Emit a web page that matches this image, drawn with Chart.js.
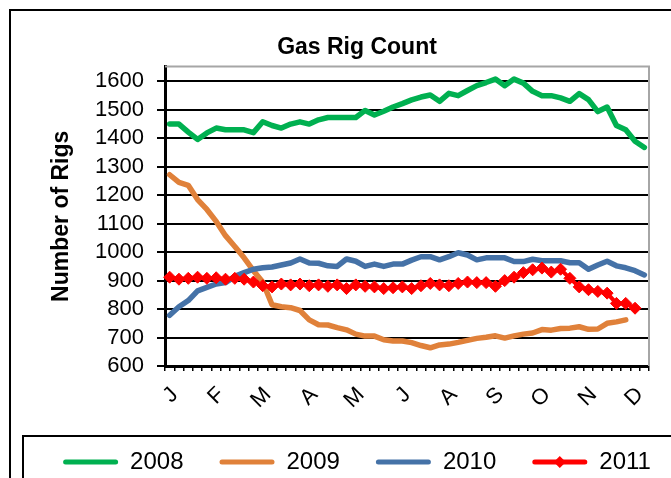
<!DOCTYPE html>
<html>
<head>
<meta charset="utf-8">
<title>Gas Rig Count</title>
<script src="https://cdn.jsdelivr.net/npm/chart.js@4.4.0/dist/chart.umd.min.js"></script>
<style>
    html, body { margin: 0; padding: 0; background: #fff; overflow: hidden; }
    #wrap { width: 705px; height: 500px; }
</style>
</head>
<body>
<div id="wrap"><canvas id="gasRigChart" width="705" height="500"></canvas></div>
<script>
// Semaines (52) et initiales des mois affichées toutes les 5 semaines
const weeks = Array.from({ length: 52 }, (_, i) => 'S' + (i + 1));
const monthLabels = ['J', 'F', 'M', 'A', 'M', 'J', 'A', 'S', 'O', 'N', 'D'];
const yTicks = [600, 700, 800, 900, 1000, 1100, 1200, 1300, 1400, 1500, 1600];

// Nombre de puits gaziers par semaine
const rigs2008 = [1450, 1450, 1422, 1396, 1419, 1436, 1430, 1430, 1430, 1420, 1458, 1445, 1436, 1450, 1458, 1450,
    1465, 1473, 1473, 1473, 1473, 1498, 1482, 1495, 1510, 1522, 1535, 1545, 1552, 1530, 1558, 1550,
    1568, 1585, 1596, 1608, 1585, 1608, 1594, 1565, 1550, 1550, 1542, 1530, 1557, 1536, 1494, 1510,
    1445, 1430, 1390, 1368];
const rigs2009 = [1272, 1245, 1235, 1185, 1150, 1108, 1058, 1020, 980, 935, 895, 815, 808, 805, 795, 762,
    745, 744, 735, 727, 712, 705, 705, 692, 688, 688, 682, 672, 664, 674, 677, 683,
    690, 697, 701, 706, 698, 706, 712, 716, 728, 726, 732, 733, 738, 729, 730, 750,
    755, 762];
const rigs2010 = [778, 808, 830, 864, 876, 888, 893, 915, 928, 940, 945, 948, 955, 962, 976, 962,
    961, 952, 950, 976, 968, 950, 958, 950, 958, 958, 972, 984, 984, 973, 984, 998,
    990, 973, 980, 980, 980, 967, 967, 975, 970, 970, 970, 963, 963, 940, 955, 968,
    952, 945, 935, 920];
const rigs2011 = [912, 905, 908, 912, 908, 910, 905, 908, 905, 895, 882, 878, 888, 885, 888, 882,
    885, 880, 885, 872, 885, 880, 878, 872, 875, 878, 872, 882, 890, 885, 882, 890,
    895, 893, 893, 880, 900, 912, 928, 938, 944, 930, 940, 908, 878, 868, 862, 856,
    820, 820, 803];

const FONT = "'Liberation Sans', Arial, sans-serif";

// Cadres : fond blanc, bord gris du tracé, bordure extérieure et boîte de légende
const cadres = {
    id: 'cadres',
    beforeDraw(chart) {
        const ctx = chart.ctx;
        ctx.save();
        ctx.fillStyle = '#fff';
        ctx.fillRect(0, 0, chart.width, chart.height);
        ctx.restore();
    },
    beforeDatasetsDraw(chart) {
        const ctx = chart.ctx;
        const a = chart.chartArea;
        ctx.save();
        ctx.strokeStyle = '#a6a6a6';
        ctx.lineWidth = 2;
        ctx.beginPath();
        ctx.moveTo(a.left, a.top);
        ctx.lineTo(a.right, a.top);
        ctx.lineTo(a.right, a.bottom);
        ctx.stroke();
        ctx.restore();
    },
    afterDraw(chart) {
        const ctx = chart.ctx;
        const lg = chart.legend;
        ctx.save();
        ctx.strokeStyle = '#000';
        ctx.lineWidth = 2;
        ctx.strokeRect(10, 10, chart.width - 20, chart.height);
        ctx.strokeRect(23, lg.top + 22, chart.width - 46, chart.height);
        // losange sur l'échantillon 2011
        const hb = lg.legendHitBoxes[3];
        if (hb) {
            const cx = hb.left + 55 / 2;
            const cy = hb.top + hb.height / 2;
            ctx.fillStyle = '#ff0000';
            ctx.beginPath();
            ctx.moveTo(cx, cy - 6);
            ctx.lineTo(cx + 6, cy);
            ctx.lineTo(cx, cy + 6);
            ctx.lineTo(cx - 6, cy);
            ctx.closePath();
            ctx.fill();
        }
        ctx.restore();
    }
};

document.addEventListener('DOMContentLoaded', function () {
    if (typeof Chart === 'undefined') {
        console.error('Chart.js n\'est pas chargé !');
        return;
    }

    const ctx = document.getElementById('gasRigChart').getContext('2d');
    new Chart(ctx, {
        type: 'line',
        data: {
            labels: weeks,
            datasets: [
                { label: '2008', data: rigs2008, borderColor: '#00b050', backgroundColor: '#00b050', borderWidth: 5.5, pointRadius: 0, order: 4 },
                { label: '2009', data: rigs2009, borderColor: '#e0813a', backgroundColor: '#e0813a', borderWidth: 5.5, pointRadius: 0, order: 3 },
                { label: '2010', data: rigs2010, borderColor: '#4572a7', backgroundColor: '#4572a7', borderWidth: 5.5, pointRadius: 0, order: 2 },
                {
                    label: '2011', data: rigs2011, borderColor: '#ff0000', backgroundColor: '#ff0000', borderWidth: 4,
                    pointStyle: 'rectRot', pointRadius: 6, pointBackgroundColor: '#ff0000', pointBorderColor: '#ff0000',
                    pointBorderWidth: 1, order: 1
                }
            ]
        },
        options: {
            responsive: false,
            animation: false,
            layout: { padding: { left: 9, right: 0, top: 9, bottom: 16 } },
            elements: { line: { tension: 0, borderCapStyle: 'round', borderJoinStyle: 'round' } },
            plugins: {
                title: {
                    display: true,
                    text: 'Gas Rig Count',
                    color: '#000',
                    font: { family: FONT, size: 23, weight: 'bold' },
                    padding: { top: 25, bottom: 5 }
                },
                legend: {
                    position: 'bottom',
                    labels: {
                        color: '#000',
                        font: { family: FONT, size: 24 },
                        boxWidth: 55,
                        boxHeight: 5,
                        padding: 36,
                        useBorderRadius: true,
                        borderRadius: 2.5,
                        sort: (a, b) => a.datasetIndex - b.datasetIndex,
                        generateLabels: function (chart) {
                            const items = Chart.defaults.plugins.legend.labels.generateLabels(chart);
                            return items.map(it => Object.assign(it, { lineWidth: 0 }));
                        }
                    }
                },
                tooltip: { enabled: false }
            },
            scales: {
                x: {
                    offset: true,
                    afterFit: function (scale) { scale.height = 48; },
                    grid: { display: true, drawOnChartArea: false, drawTicks: true, tickLength: 5, color: '#000', lineWidth: 1.5, offset: true },
                    border: { color: '#000', width: 3 },
                    ticks: {
                        autoSkip: false,
                        minRotation: 45,
                        maxRotation: 45,
                        labelOffset: 5,
                        padding: 11,
                        color: '#000',
                        font: { family: FONT, size: 22 },
                        callback: function (value, index) {
                            return index % 5 === 0 ? monthLabels[index / 5] : '';
                        }
                    }
                },
                y: {
                    min: 600,
                    max: 1652,
                    afterBuildTicks: function (scale) {
                        scale.ticks = yTicks.map(v => ({ value: v }));
                    },
                    afterFit: function (scale) { scale.width = 156; },
                    grid: { color: '#000', lineWidth: 2, tickLength: 8 },
                    border: { color: '#000', width: 3 },
                    ticks: {
                        color: '#000',
                        padding: 13,
                        font: { family: FONT, size: 22 },
                        callback: value => String(value)
                    },
                    title: {
                        display: true,
                        text: 'Number of Rigs',
                        color: '#000',
                        font: { family: FONT, size: 23, weight: 'bold' },
                        padding: { top: 39, bottom: 0 }
                    }
                },
                yDroite: {
                    position: 'right',
                    display: true,
                    afterFit: function (scale) { scale.width = 56; },
                    grid: { display: false },
                    border: { display: false },
                    ticks: { display: false }
                }
            }
        },
        plugins: [cadres]
    });
});
</script>
</body>
</html>
